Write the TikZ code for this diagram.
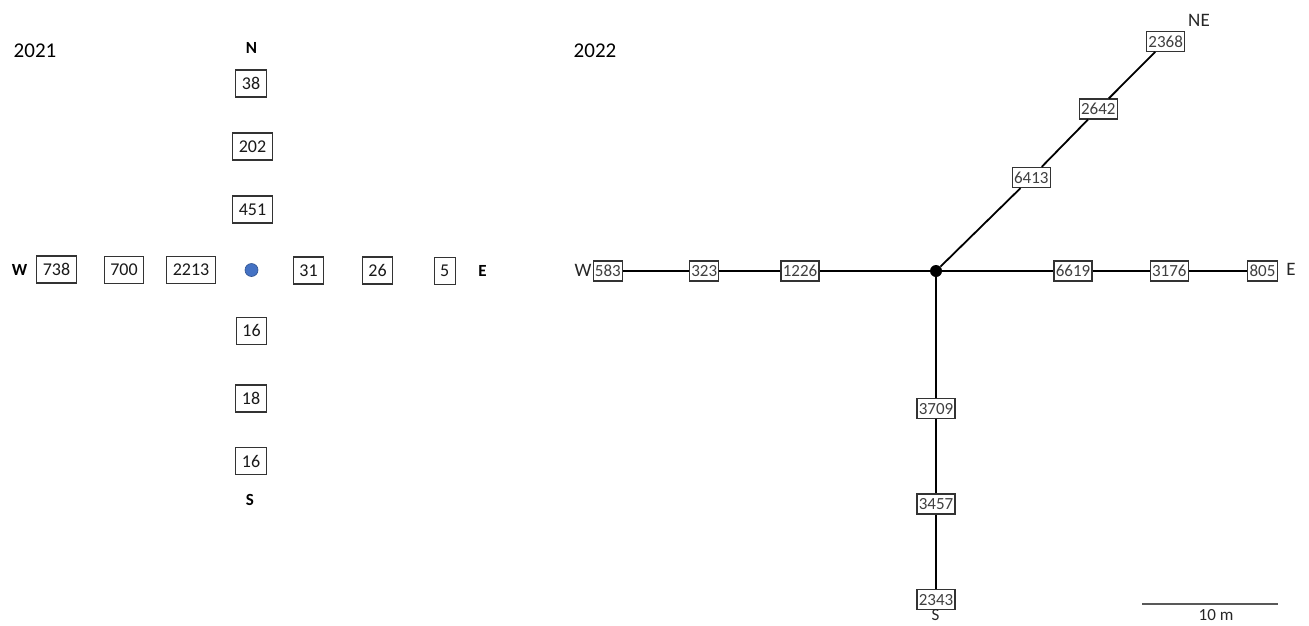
\documentclass[tikz,border=0pt]{standalone}
\usepackage{fontspec}
\setmainfont{Carlito}
\begin{document}
\begin{tikzpicture}[x=1pt,y=-1pt,
  bigbox/.style={draw=black!80,line width=1.2pt,fill=white,inner xsep=6pt,inner ysep=0pt,
    minimum height=27pt,font=\fontsize{18}{20}\selectfont,text=black!90},
  smallbox/.style={draw=black!80,line width=1.2pt,fill=white,inner xsep=1.7pt,inner ysep=0pt,
    minimum height=20pt,font=\fontsize{17}{19}\selectfont,text=black!75},
  dirbold/.style={font=\fontsize{17}{19}\selectfont\bfseries,text=black},
  dirlabel/.style={font=\fontsize{19}{21}\selectfont,text=black!85},
  yearlabel/.style={font=\fontsize{21}{24}\selectfont,text=black},
  link/.style={line width=1.8pt,black}]
\useasboundingbox (0,0) rectangle (1309,625);

% ---- 2021: counts around the central point ----
\node[yearlabel] (y21) at (35,51) {2021};
\node[dirbold] (n21) at (251.5,47.5) {N};
\node[dirbold] (s21) at (250,499.5) {S};
\node[dirbold] (w21) at (19.7,269.5) {W};
\node[dirbold] (e21) at (482.5,271) {E};
\node[circle,fill={rgb,255:red,68;green,114;blue,196},draw={rgb,255:red,47;green,82;blue,143},
  line width=0.6pt,minimum size=13pt,inner sep=0pt] (c21) at (251.5,270) {};
\node[bigbox] (a38)   at (251,83.5)   {38};
\node[bigbox] (a202)  at (252.5,146.5) {202};
\node[bigbox] (a451)  at (252.5,209.5) {451};
\node[bigbox] (a738)  at (56.5,269.5) {738};
\node[bigbox] (a700)  at (124,270)    {700};
\node[bigbox] (a2213) at (191,270)    {2213};
\node[bigbox] (a31)   at (308.5,270.5) {31};
\node[bigbox] (a26)   at (377.5,270.5) {26};
\node[bigbox] (a5)    at (444.7,271)  {5};
\node[bigbox] (a16n)  at (251.5,330.7) {16};
\node[bigbox] (a18)   at (251,398.5)  {18};
\node[bigbox] (a16s)  at (251,461.3)  {16};

% ---- 2022: transects from the hub ----
\node[yearlabel] (y22) at (595,51) {2022};
\node[circle,fill=black,minimum size=12pt,inner sep=0pt] (hub) at (936,271) {};

\node[smallbox] (b583)  at (607.8,271) {583};
\node[smallbox] (b323)  at (704.2,271) {323};
\node[smallbox] (b1226) at (800,271)   {1226};
\node[smallbox] (b6619) at (1073,271)  {6619};
\node[smallbox] (b3176) at (1169.3,271) {3176};
\node[smallbox] (b805)  at (1262.5,271) {805};
\node[smallbox] (b6413) at (1031.3,177.5) {6413};
\node[smallbox] (b2642) at (1098.3,109) {2642};
\node[smallbox] (b2368) at (1165.7,41.3) {2368};
\node[smallbox] (b3709) at (936,408.7) {3709};
\node[smallbox] (b3457) at (936,504) {3457};
\node[smallbox] (b2343) at (936,599.7) {2343};

\node[dirlabel] (w22)  at (583,270) {W};
\node[dirlabel] (e22)  at (1291,269) {E};
\node[dirlabel] (ne22) at (1199,20.5) {NE};
\node[dirlabel,font=\fontsize{17}{19}\selectfont] (s22) at (935.5,615.5) {S};

\draw[link] (hub) -- (b1226) -- (b323) -- (b583);
\draw[link] (hub) -- (b6619) -- (b3176) -- (b805);
\draw[link] (hub) -- (b6413) -- (b2642) -- (b2368);
\draw[link] (hub) -- (b3709) -- (b3457) -- (b2343);

% ---- scale bar ----
\coordinate (sb1) at (1142,604.3);
\coordinate (sb2) at (1278,604.3);
\draw[line width=2pt,black!65] (sb1) -- (sb2);
\node[font=\fontsize{17}{19}\selectfont,text=black!85] (sbl) at (1216,615.5) {10 m};
\end{tikzpicture}
\end{document}
